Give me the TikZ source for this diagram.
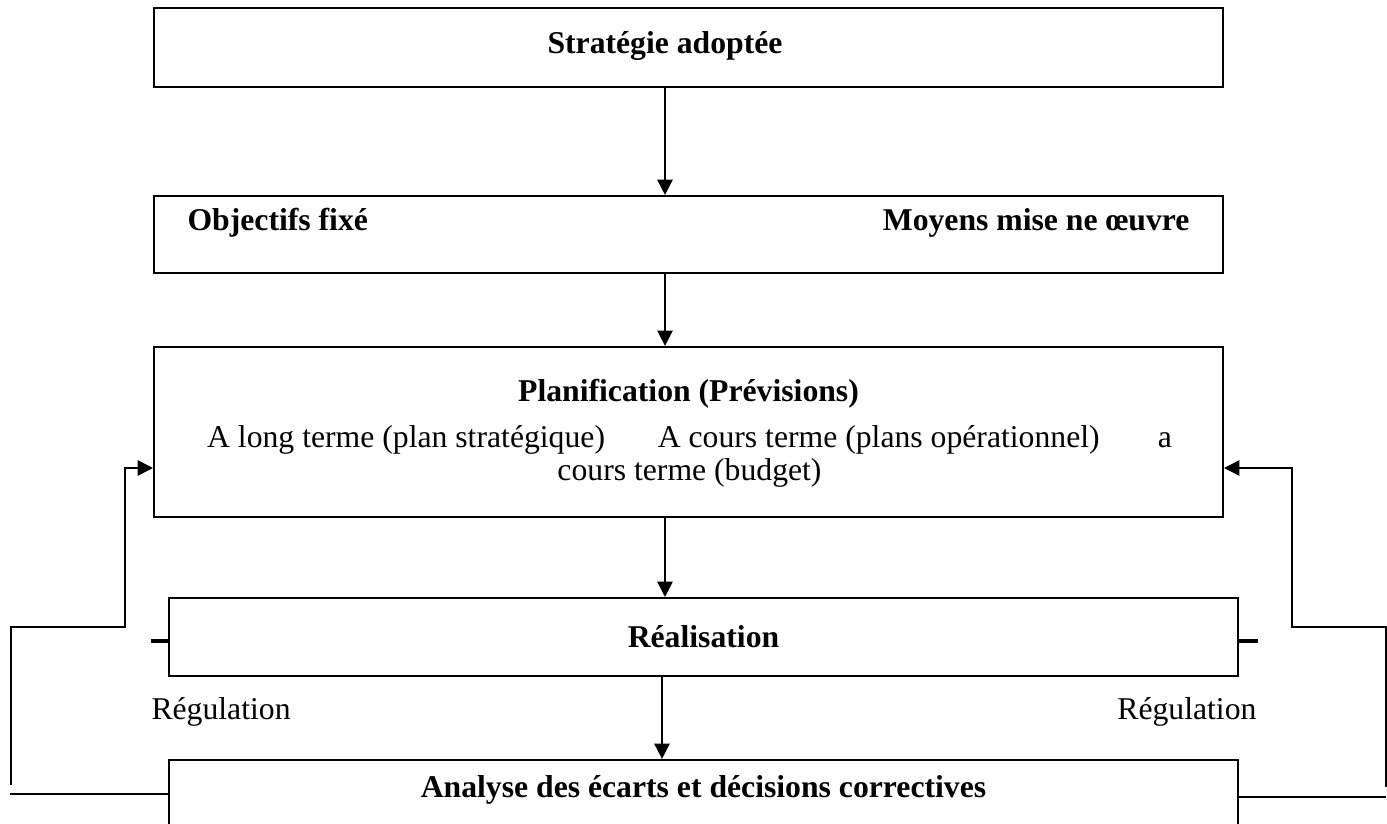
\documentclass[tikz,border=0pt]{standalone}
\usepackage{fontspec}
\setmainfont{Liberation Serif}
\usetikzlibrary{arrows.meta, positioning}

\begin{document}
\begin{tikzpicture}[x=0.3786pt, y=-0.3786pt,
    box/.style={draw, line width=0.8pt, minimum width=404.7pt, inner sep=0pt},
    lbl/.style={font=\fontsize{12}{14}\selectfont\bfseries, inner sep=0pt},
    txt/.style={font=\fontsize{12}{12.5}\selectfont, inner sep=0pt},
    fb/.style={line width=0.6pt},
    stub/.style={line width=1.6pt},
    >={Triangle[length=5.8pt,width=5.8pt]}]
  \useasboundingbox (0,0) rectangle (1387,824);
  \clip (0,0) rectangle (1387,824);
  % boxes
  \node[box, minimum height=29.9pt] (strat) at (688.5,47.5) {};
  \node[lbl] (strattxt) at (665,46) {Strat\'egie adopt\'ee};
  \node[box, minimum height=29.15pt] (obj) at (688.5,234.5) {};
  \node[lbl, anchor=west] (objtxt) at (187,223) {Objectifs fix\'e};
  \node[lbl, anchor=east] (moytxt) at (1190,223) {Moyens mise ne œuvre};
  \node[box, minimum height=64.4pt] (plan) at (688.5,432) {};
  \node[lbl] (plantitle) at (688.5,394) {Planification (Pr\'evisions)};
  \node[txt, align=center] (plantxt) at (689.5,456)
    {A long terme (plan strat\'egique)\hspace{20pt}A cours terme (plans op\'erationnel)\hspace{22pt}a\\cours terme (budget)};
  \node[box, minimum height=29.5pt, lbl] (real) at (703.5,637) {R\'ealisation};
  \node[box, minimum height=30.3pt] (ana) at (703.5,800) {};
  \node[lbl] (anatxt) at (703.5,790) {Analyse des \'ecarts et d\'ecisions correctives};
  \node[txt, anchor=west] (regl) at (151,712) {R\'egulation};
  \node[txt, anchor=east] (regr) at (1257,712) {R\'egulation};
  % main flow
  \coordinate (ax) at (665,0);
  \coordinate (bx) at (662,0);
  \draw[->, line width=0.6pt] (strat.south -| ax) -- (obj.north -| ax);
  \draw[->, line width=0.6pt] (obj.south -| ax) -- (plan.north -| ax);
  \draw[->, line width=0.6pt] (plan.south -| ax) -- (real.north -| ax);
  \draw[->, line width=0.6pt] (real.south -| bx) -- (ana.north -| bx);
  % stubs
  \coordinate (sl) at (151,641);
  \coordinate (sr) at (1258,641);
  \draw[stub] (sl) -- (real.west |- sl);
  \draw[stub] (real.east |- sr) -- (sr);
  % feedback loops
  \coordinate (fbin) at (0,468);
  \coordinate (lbot) at (10,794);
  \coordinate (lfoot) at (11,785);
  \coordinate (lknee) at (125,627);
  \coordinate (rbot) at (1386,797);
  \coordinate (rfoot) at (1386,787);
  \coordinate (rknee) at (1292,627);
  \draw[fb] (lbot) -- (ana.west |- lbot);
  \draw[fb, ->] (lfoot) |- (lknee) |- (plan.west |- fbin);
  \draw[fb] (ana.east |- rbot) -- (rbot);
  \draw[fb, ->] (rfoot) |- (rknee) |- (plan.east |- fbin);
\end{tikzpicture}
\end{document}
